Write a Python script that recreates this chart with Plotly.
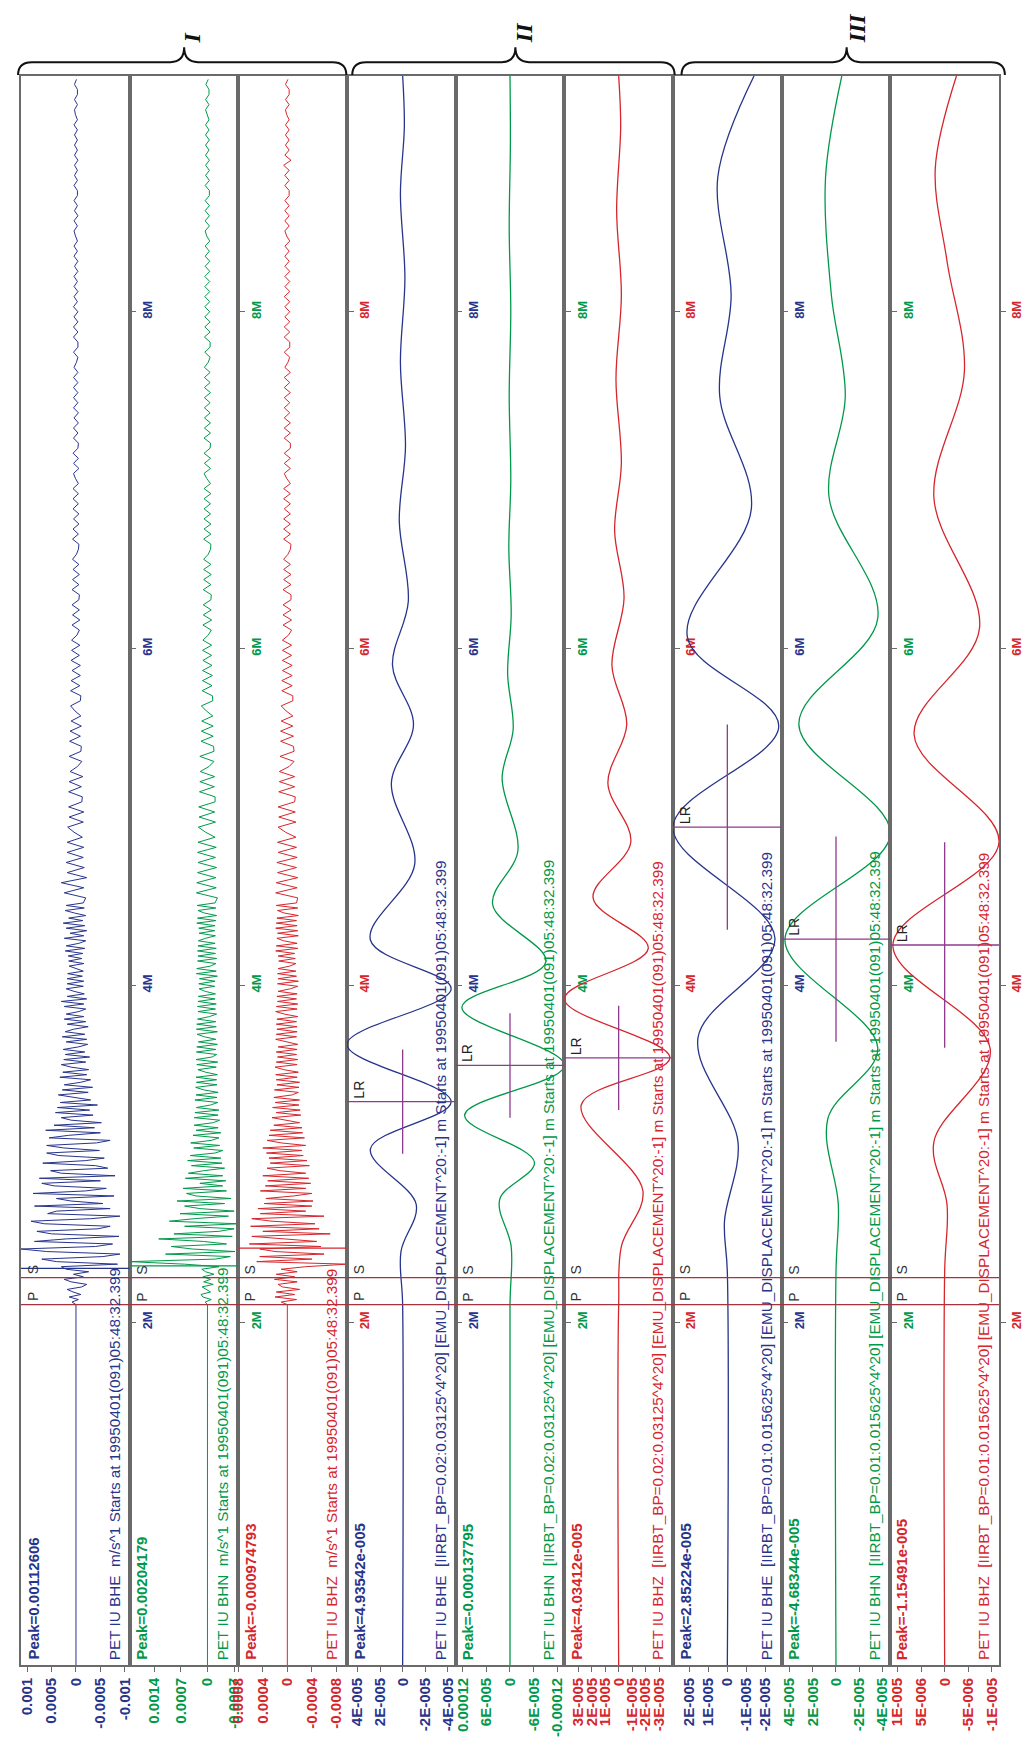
import plotly.graph_objects as go

# ---------------- DATA ----------------
T_P = 2.105          # P phase pick (minutes)
T_S = 2.265          # S phase pick (minutes)
# raw traces are read on two sample grids: dense just after P, coarser in the coda
rawA_t0, rawA_dt = 2.105, 0.015
rawB_t0, rawB_dt = 4.52, 0.03
time_ticks = [2, 4, 6, 8]
time_ticktext = ["2M", "4M", "6M", "8M"]

# Panel I : raw velocity, units of 1e-5 m/s (positive drawn to the left)
bhe_rawA = [
    0, 8, -5, 14, -10, 6, 18, -12, -22, 10,
    24, -15, 5, -26, 20, 30, -85, 40, 70, -55,
    -90, 60, 112.606, -40, -75, 85, 20, -88, 50, 80,
    -45, -70, 65, 92, -30, -90, 58, 40, -70, 85,
    -55, 10, 40, -78, 88, -20, -62, 45, 70, -50,
    75, -80, 30, 52, -65, -40, 68, -20, -58, 35,
    60, -48, 25, 60, -42, -70, 55, 15, -50, 62,
    -38, 45, -52, 10, 30, -35, 42, -28, 38, -44,
    32, -30, 5, 36, -25, 28, -34, 24, -10, -30,
    33, -22, 27, -26, 10, 30, -20, 25, -28, 22,
    -18, 26, -5, -24, 20, -22, 28, -18, 22, 5,
    -25, 18, -20, 24, -16, 20, -6, -20, 24, -16,
    30, -22, 18, -17, 4, 20, -15, 18, -16, 18,
    -13, 17, -15, 2, 14, -16, 15, -12, 16, -14,
    22, -18, 20, -6, -20, 24, -16, 12, -22, 20,
    -18, 26, -14, 15, -20, 3, 22, -17, 20, -15,
]
bhe_rawB = [
    -20, 24, -16, 30, -22, 18, -17, 20, -15, 18,
    -16, 18, -13, 4, 17, -15, 14, -16, 15, -12,
    -13, 15, -11, 14, -14, 12, -3, -12, 14, -10,
    -11, 13, -9, 12, -11, 10, -10, 2, 11, -9,
    -10, 11, -8, 10, -9, 8, -9, 10, -7, 9,
    -8, 9, -2, -7, 8, -8, 7, -7, 8, -6,
    -7, 8, -6, 7, -7, 6, -6, 7, -1, -5,
    -6, 7, -5, 6, -6, 5, -6, 6, -5, 6,
    -5, 6, -5, 1, 5, -6, 5, -5, 6, -4,
    -5, 5, -4, 5, -5, 4, -5, 5, -4, 5,
    -4, 5, -4, 5, -4, 4, -1, -4, 5, -4,
    -4, 5, -4, 5, -4, 4, -4, 5, -3, 4,
    -4, 4, -3, 4, -4, 3, -4, 4, -3, 4,
    -3, 1, 4, -3, 4, -4, 3, -3, 4, -3,
    -3, 4, -3, 3, -3, 3, -4, 3, -3, 3,
    -3, 3, -3, 4, -3, 1, 3, -3, 3, -3,
    -3, 3, -1,
]
bhn_rawA = [
    0, 6, -10, 12, 17, -8, 4, 14, -15, 10,
    -8, 12, -17, 5, 15, -30, 60, 204.179, -20, -60,
    110, -72, 40, 95, -50, 10, 128, -65, 88, -30,
    -70, 60, -81, 100, 35, -55, 72, -70, 20, 60,
    -45, 80, -62, 30, 55, -50, 64, -40, 20, -48,
    58, -40, 50, 10, -45, 42, -38, 52, -35, 45,
    -20, -40, 36, -32, 44, -10, -30, 38, -35, 30,
    -28, 35, -15, -32, 35, -28, 33, -30, 29, -8,
    -27, 33, -25, 30, -28, 10, 31, -25, 29, -24,
    30, -26, 5, 25, -23, 28, -27, 30, -12, -24,
    29, -22, 28, -26, 24, -22, 8, 27, -26, 29,
    -23, 28, -22, 26, -5, -24, 25, -21, 26, -23,
    25, -20, 24, -21, 6, 22, -19, 23, -20, 21,
    -26, 29, -23, 28, -8, -22, 26, -24, 25, -21,
    26, -23, 25, -20, 24, 5, -21, 22, -19, 23,
    -20, 28, -22, 26, -24, 8, 25, -22, 27, -20,
]
bhn_rawB = [
    -26, 29, -23, 28, -22, 26, -24, 25, -21, 26,
    -23, 25, -20, 5, 24, -21, 22, -19, 23, -20,
    -20, 21, -18, 20, -19, 19, -4, -17, 20, -17,
    -16, 17, -15, 16, -15, 15, -14, 3, 16, -14,
    -13, 14, -12, 13, -13, 13, -12, 12, -11, 13,
    -11, 12, -2, -10, 12, -11, 11, -10, 11, -9,
    -10, 11, -9, 10, -10, 10, -9, 10, -2, -8,
    -9, 10, -9, 9, -9, 9, -8, 9, -8, 9,
    -9, 9, -8, 2, 9, -8, 8, -8, 9, -7,
    -8, 9, -8, 8, -8, 8, -7, 8, -7, 8,
    -8, 8, -7, 8, -7, 8, -2, -7, 7, -7,
    -7, 8, -7, 7, -7, 7, -6, 7, -6, 7,
    -6, 7, -6, 7, -6, 6, -6, 6, -5, 6,
    -6, 2, 6, -5, 6, -5, 6, -5, 6, -5,
    -5, 6, -5, 5, -5, 5, -5, 5, -4, 5,
    -5, 5, -4, 5, -4, 1, 5, -4, 5, -4,
    -4, 4, -2,
]
bhz_rawA = [
    0, 10, -15, 20, -12, 18, -20, 8, 15, -16,
    21, -12, 18, -16, 10, -30, -97.4793, 50, -40, 45,
    -60, 20, 45, -55, 62, -48, 10, 58, -70, 40,
    -52, 60, -45, 25, 58, -60, 44, -30, 48, -40,
    38, -42, 35, -10, -40, 44, -30, 36, -38, 32,
    -35, 40, -30, 12, 33, -36, 28, -32, 30, -26,
    34, -24, 40, -30, 10, 33, -28, 30, -25, 28,
    -24, 22, -20, 5, 25, -22, 18, -21, 24, -19,
    20, -20, 22, -8, -18, 21, -19, 17, -20, 18,
    -16, 19, -18, 6, 20, -16, 18, -17, 16, -15,
    18, -16, 15, -17, 4, 19, -15, 18, -16, 17,
    -16, 18, -15, 17, -17, 5, 19, -16, 18, -17,
    16, -15, 17, -16, 15, -5, -17, 16, -18, 15,
    -15, 16, -14, 15, -4, -14, 14, -13, 15, -12,
    19, -17, 18, -16, 6, 17, -18, 16, -17, 19,
    -16, 18, -15, 17, -18, 5, 16, -17, 18, -15,
]
bhz_rawB = [
    -17, 19, -16, 18, -17, 16, -15, 17, -16, 15,
    -15, 16, -14, 3, 15, -14, 14, -13, 15, -12,
    -13, 14, -12, 13, -12, 13, -3, -11, 12, -11,
    -10, 11, -10, 11, -9, 10, -9, 2, 10, -9,
    -9, 9, -8, 9, -8, 8, -8, 8, -7, 8,
    -7, 8, -2, -7, 7, -7, 7, -6, 7, -6,
    -6, 7, -6, 6, -6, 6, -5, 6, -1, -5,
    -6, 6, -5, 6, -5, 6, -5, 5, -5, 6,
    -5, 6, -5, 1, 5, -5, 5, -5, 5, -5,
    -5, 5, -5, 5, -5, 5, -4, 5, -4, 5,
    -5, 5, -4, 5, -5, 4, -1, -4, 5, -4,
    -4, 5, -4, 5, -4, 4, -4, 4, -4, 5,
    -4, 4, -4, 4, -4, 4, -3, 4, -3, 4,
    -4, 1, 4, -3, 4, -3, 4, -3, 4, -3,
    -3, 4, -3, 4, -3, 6, -6, 4, -3, 3,
    -3, 3, -3, 3, -3, 1, 3, -3, 3, -3,
    -3, 3, -1,
]

# Panel II : band-pass 0.02-0.03125, displacement, units of 1e-6 m (extrema)
f2_bhe_t = [-0.035, 2.10, 2.42, 2.70, 3.03, 3.31, 3.65, 3.98, 4.27, 4.72, 5.20, 5.55, 5.90, 6.28, 6.76, 7.20, 7.70, 8.20, 8.70, 9.10, 9.40]
f2_bhe_a = [0, 0, 1.5, -12, 28.6, -43, 49.3542, -43, 28.6, -10.7, 10, -9.6, 9, -5, 3, -2.5, 2, -2, 2, -1.5, 0]
f2_bhn_t = [-0.035, 2.10, 2.45, 2.73, 2.95, 3.23, 3.525, 3.87, 4.14, 4.48, 4.80, 5.23, 5.52, 5.85, 6.20, 6.60, 7.00, 7.50, 8.00, 8.50, 9.00, 9.40]
f2_bhn_a = [0, 0, -3, 26, -62, 115, -137.795, 122, -91, 44, -20, 20, -8, 6, -3, 3, -2, 2, -2, 2, -1, 0]
f2_bhz_t = [-0.035, 2.10, 2.45, 2.78, 3.29, 3.57, 3.92, 4.22, 4.52, 4.85, 5.20, 5.55, 5.90, 6.30, 6.70, 7.10, 7.60, 8.10, 8.60, 9.10, 9.40]
f2_bhz_a = [0, 0, -2, -18, 27.8, -38, 40.3412, -22, 19, -9, 8, -6, 5, -4, 3, -2, 2, -2, 1.5, -1.5, 0]

# Panel III : band-pass 0.01-0.015625, displacement, units of 1e-6 m
f3_bhe_t = [-0.035, 2.30, 2.60, 3.07, 3.69, 4.28, 4.94, 5.54, 6.07, 6.83, 7.50, 8.10, 8.80, 9.40]
f3_bhe_a = [0, 0, 1.5, -5.6, 15.4, -25, 28.5224, -27, 21, -12.6, 4, -2, 5, -14]
f3_bhn_t = [-0.035, 2.30, 2.70, 3.21, 3.63, 4.275, 4.90, 5.55, 6.18, 6.90, 7.50, 8.10, 8.80, 9.40]
f3_bhn_a = [0, 0, -2, 7, -36, 44, -46.8344, 32, -36, 6, -8, 4, 9, -5]
f3_bhz_t = [-0.035, 2.30, 2.70, 3.07, 3.62, 4.24, 4.85, 5.49, 6.12, 6.90, 7.65, 8.30, 8.85, 9.40]
f3_bhz_a = [0, 0, -0.5, 2.3, -9.7, 11, -11.5491, 6.5, -7.4, 2.3, -4.2, -0.5, 2, -2.5]

# per-panel amplitude ranges (left = positive) and tick labels
amp_ranges = [(112.606, -110), (204.179, -81), (80, -97.4793),
              (49.3542, -47), (137.795, -137.795), (40.3412, -40.3412),
              (28.5224, -28.5224), (46.8344, -46.8344), (11.5491, -11.5491)]
amp_tickvals = [[100, 50, 0, -50, -100], [140, 70, 0, -70], [80, 40, 0, -40, -80],
                [40, 20, 0, -20, -40], [120, 60, 0, -60, -120], [30, 20, 10, 0, -10, -20, -30],
                [20, 10, 0, -10, -20], [40, 20, 0, -20, -40], [10, 5, 0, -5, -10]]
amp_ticktext = [["0.001", "0.0005", "0", "-0.0005", "-0.001"],
                ["0.0014", "0.0007", "0", "-0.0007"],
                ["0.0008", "0.0004", "0", "-0.0004", "-0.0008"],
                ["4E-005", "2E-005", "0", "-2E-005", "-4E-005"],
                ["0.00012", "6E-005", "0", "-6E-005", "-0.00012"],
                ["3E-005", "2E-005", "1E-005", "0", "-1E-005", "-2E-005", "-3E-005"],
                ["2E-005", "1E-005", "0", "-1E-005", "-2E-005"],
                ["4E-005", "2E-005", "0", "-2E-005", "-4E-005"],
                ["1E-005", "5E-006", "0", "-5E-006", "-1E-005"]]

peak_labels = ["Peak=0.00112606", "Peak=0.00204179", "Peak=-0.000974793",
               "Peak=4.93542e-005", "Peak=-0.000137795", "Peak=4.03412e-005",
               "Peak=2.85224e-005", "Peak=-4.68344e-005", "Peak=-1.15491e-005"]
channels = ["BHE", "BHN", "BHZ"] * 3
units_txt = ["m/s^1 Starts at 19950401(091)05:48:32.399"] * 3 + \
            ["[IIRBT_BP=0.02:0.03125^4^20] [EMU_DISPLACEMENT^20:-1] m Starts at 19950401(091)05:48:32.399"] * 3 + \
            ["[IIRBT_BP=0.01:0.015625^4^20] [EMU_DISPLACEMENT^20:-1] m Starts at 19950401(091)05:48:32.399"] * 3

onset_times = [2.32, 2.335, 2.44]                 # extra picks drawn in panel I
lr_times = [3.31, 3.525, 3.57, 4.94, 4.275, 4.24]  # LR picks, panels II and III
lr_half = [0.31, 0.31, 0.31, 0.61, 0.61, 0.61]
group_labels = ["I", "II", "III"]

# ---------------- STYLE ----------------
COLORS = {"BHE": "#27348b", "BHN": "#00994a", "BHZ": "#d6262c"}
BORDER = "#6a6a6a"
PICK = "#a8323e"
LRCOL = "#8e3a8e"
FONT = "Liberation Sans"
T_RANGE = [-0.035, 9.40]
W, H = 1036, 1749
ML, MR, MT, MB = 12, 29, 76, 64

raw_t = [rawA_t0 + rawA_dt * k for k in range(len(bhe_rawA))] + \
        [rawB_t0 + rawB_dt * k for k in range(len(bhe_rawB))]
series = [
    ([T_RANGE[0]] + raw_t, [0] + bhe_rawA + bhe_rawB, "linear"),
    ([T_RANGE[0]] + raw_t, [0] + bhn_rawA + bhn_rawB, "linear"),
    ([T_RANGE[0]] + raw_t, [0] + bhz_rawA + bhz_rawB, "linear"),
    (f2_bhe_t, f2_bhe_a, "spline"), (f2_bhn_t, f2_bhn_a, "spline"), (f2_bhz_t, f2_bhz_a, "spline"),
    (f3_bhe_t, f3_bhe_a, "spline"), (f3_bhn_t, f3_bhn_a, "spline"), (f3_bhz_t, f3_bhz_a, "spline"),
]

fig = go.Figure()
layout = {}
annotations = []
shapes = []

for i in range(9):
    n = "" if i == 0 else str(i + 1)
    col = COLORS[channels[i]]
    t, a, shape = series[i]
    line = dict(color=col, width=1.3 if shape == "spline" else 1.0, shape=shape)
    if shape == "spline":
        line["smoothing"] = 1.0
    fig.add_trace(go.Scatter(x=a, y=t, mode="lines", xaxis="x" + n, yaxis="y" + n,
                             line=line, hoverinfo="skip"))
    layout["xaxis" + n] = dict(
        domain=[i / 9, (i + 1) / 9], anchor="y" + n, range=list(amp_ranges[i]),
        tickmode="array", tickvals=amp_tickvals[i], ticktext=amp_ticktext[i],
        tickangle=-90, ticks="outside", ticklen=5, tickcolor=BORDER,
        tickfont=dict(family=FONT, size=15, color=col, weight="bold"),
        showline=True, mirror=True, linecolor=BORDER, linewidth=1.6,
        showgrid=False, zeroline=False, fixedrange=True)
    layout["yaxis" + n] = dict(
        domain=[0, 1], anchor="x" + n, side="right", range=T_RANGE,
        tickmode="array", tickvals=time_ticks, ticktext=time_ticktext,
        tickangle=-90, ticks="outside", ticklen=5, tickcolor=BORDER,
        tickfont=dict(family=FONT, size=13, color=col, weight="bold"),
        showline=True, mirror=True, linecolor=BORDER, linewidth=1.6,
        showgrid=False, zeroline=False, fixedrange=True)

    annotations.append(dict(
        text=f"PET IU {channels[i]}  {units_txt[i]}", xref=f"x{n} domain", yref=f"y{n} domain",
        x=1, y=0, xanchor="right", yanchor="bottom", xshift=-5, yshift=3,
        textangle=-90, showarrow=False, font=dict(family=FONT, size=15.3, color=col)))
    annotations.append(dict(
        text=peak_labels[i], xref=f"x{n} domain", yref=f"y{n} domain",
        x=0, y=0, xanchor="left", yanchor="bottom", xshift=1, yshift=3,
        textangle=-90, showarrow=False, font=dict(family=FONT, size=15, color=col, weight="bold")))
    for lab, tt in (("P", T_P), ("S", T_S)):
        annotations.append(dict(
            text=lab, xref=f"x{n} domain", yref=f"y{n}", x=0, y=tt,
            xanchor="left", yanchor="bottom", xshift=2, yshift=1,
            textangle=-90, showarrow=False, font=dict(family=FONT, size=14, color="#333333")))

for tt in (T_P, T_S):
    shapes.append(dict(type="line", xref="paper", yref="y", x0=0, x1=1, y0=tt, y1=tt,
                       line=dict(color=PICK, width=1.1)))

for i, tt in enumerate(onset_times):
    n = "" if i == 0 else str(i + 1)
    shapes.append(dict(type="line", xref=f"x{n} domain", yref=f"y{n}", x0=0, x1=1, y0=tt, y1=tt,
                       line=dict(color=COLORS[channels[i]], width=1.1)))

for k, tt in enumerate(lr_times):
    n = str(k + 4)
    shapes.append(dict(type="line", xref=f"x{n} domain", yref=f"y{n}", x0=0, x1=1, y0=tt, y1=tt,
                       line=dict(color=LRCOL, width=1.3)))
    shapes.append(dict(type="line", xref=f"x{n}", yref=f"y{n}", x0=0, x1=0,
                       y0=tt - lr_half[k], y1=tt + lr_half[k], line=dict(color=LRCOL, width=1.3)))
    annotations.append(dict(
        text="LR", xref=f"x{n} domain", yref=f"y{n}", x=0, y=tt,
        xanchor="left", yanchor="bottom", xshift=2, yshift=1,
        textangle=-90, showarrow=False, font=dict(family=FONT, size=14, color="#222222")))

# group braces on top
pw = W - ML - MR
ph = H - MT - MB
def pxp(x):
    return (x - ML) / pw
def pyp(y):
    return (H - MB - y) / ph

brace_spans = [(9, 343, 178), (349, 677, 515), (684, 1013, 852)]
label_x = [186, 524, 862]
for (x0, x1, xm), lab, lx in zip(brace_spans, group_labels, label_x):
    ye, ym, yt, r = 75, 62, 47, 14
    pts = [("M", [(x0, ye)]), ("Q", [(x0, ym), (x0 + r, ym)]), ("L", [(xm - r, ym)]),
           ("Q", [(xm, ym), (xm, yt)]), ("Q", [(xm, ym), (xm + r, ym)]),
           ("L", [(x1 - r, ym)]), ("Q", [(x1, ym), (x1, ye)])]
    path = " ".join(c + " " + " ".join(f"{pxp(a):.5f},{pyp(b):.5f}" for a, b in p) for c, p in pts)
    shapes.append(dict(type="path", xref="paper", yref="paper", path=path,
                       line=dict(color="#111111", width=2)))
    annotations.append(dict(
        text=lab, xref="paper", yref="paper", x=pxp(lx), y=pyp(45),
        xanchor="center", yanchor="bottom", textangle=-90, showarrow=False,
        font=dict(family="Liberation Serif", size=24, color="#111111", style="italic", weight="bold")))

fig.update_layout(
    width=W, height=H, margin=dict(l=ML, r=MR, t=MT, b=MB),
    paper_bgcolor="white", plot_bgcolor="white", showlegend=False,
    annotations=annotations, shapes=shapes, **layout)

fig.write_html("out.html")
